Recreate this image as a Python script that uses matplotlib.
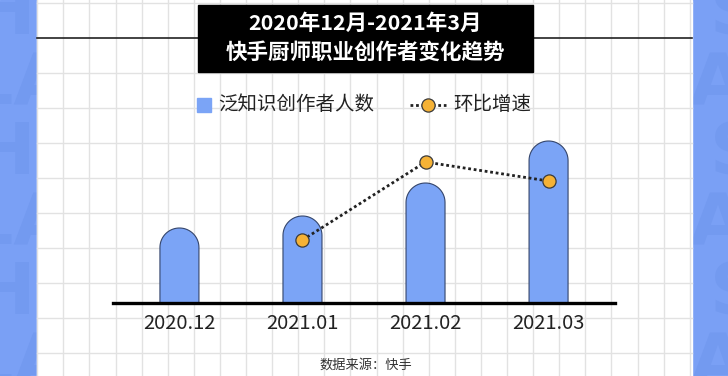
import numpy as np
import matplotlib
matplotlib.use("Agg")
import matplotlib.pyplot as plt
from matplotlib.patches import Polygon, Rectangle

plt.rcParams['font.family'] = ['Noto Sans CJK SC', 'DejaVu Sans']

# 数据
months = ['2020.12', '2021.01', '2021.02', '2021.03']
creators = [75, 87, 120, 162]          # 泛知识创作者人数（相对值）
growth_idx = [1, 2, 3]
growth = [63, 141, 122]                # 环比增速（相对值）

title_lines = ['2020年12月-2021年3月', '快手厨师职业创作者变化趋势']
legend_labels = ['泛知识创作者人数', '环比增速']
source = '数据来源：快手'

BLUE_BG = '#7AA0F5'
BAR_C = '#7BA4F6'
ORANGE = '#F5B236'
W, H = 728, 376

fig = plt.figure(figsize=(W / 100, H / 100), dpi=100)

# 背景层（像素坐标）
bg = fig.add_axes([0, 0, 1, 1])
bg.set_xlim(0, W)
bg.set_ylim(H, 0)
bg.axis('off')
bg.add_patch(Rectangle((0, 0), W, H, color=BLUE_BG, zorder=0))

# 两侧水印字
wm = dict(fontsize=52, fontweight='bold', color='#739AF0', va='baseline',
          family='DejaVu Sans', zorder=1)
for k in range(6):
    y = 34 + 70 * k
    if k % 2 == 0:
        bg.text(36, y, 'ASH', ha='right', **wm)
        bg.text(710, y, 'SL', ha='left', **wm)
    else:
        bg.text(70, y, 'FLA', ha='right', **wm)
        bg.text(690, y, 'ASH', ha='left', **wm)

# 白色面板 + 网格
bg.add_patch(Rectangle((37, 0), 655, H, color='white', zorder=2))
for x in [37.2] + list(63.3 + 26.1 * np.arange(25)):
    bg.plot([x, x], [0, H], color='#E2E2E2', lw=1, zorder=3)
for y in 3 + 35 * np.arange(11):
    if y == 38:
        continue
    bg.plot([37, 692], [y, y], color='#E2E2E2', lw=1, zorder=3)
bg.plot([37, 692], [38, 38], color='#222222', lw=1.2, zorder=4)

# 标题框
bg.add_patch(Rectangle((198, 5), 335, 67, color='black', zorder=5))
bg.text(365.5, 23, title_lines[0], color='white', fontsize=15.5, fontweight='bold',
        ha='center', va='center', zorder=6)
bg.text(365.5, 52, title_lines[1], color='white', fontsize=15.5, fontweight='bold',
        ha='center', va='center', zorder=6)

# 图例（手动）
bg.plot([203.5], [105], marker='s', ms=9.5, color=BAR_C, zorder=6)
bg.text(218, 105, legend_labels[0], fontsize=14, color='#222222', va='center', zorder=6)
bg.plot([410, 446], [105, 105], ls=(0, (1, 1)), color='#222222', lw=2, zorder=6)
bg.plot([428], [105], marker='o', ms=9.5, mfc=ORANGE, mec='#3a3a3a', mew=0.9, zorder=7)
bg.text(453, 105, legend_labels[1], fontsize=14, color='#222222', va='center', zorder=6)

# 数据来源
bg.text(366, 365, source, fontsize=9.5, color='#333333', ha='center', va='center', zorder=6)

# 主图
ax = fig.add_axes([113 / W, (H - 303) / H, 502 / W, 200 / H])
ax.patch.set_alpha(0)
ax.set_xlim(-0.54, 3.54)
ax.set_ylim(0, 200)
for s in ['left', 'right', 'top']:
    ax.spines[s].set_visible(False)
ax.spines['bottom'].set_linewidth(2.4)
ax.spines['bottom'].set_color('black')
ax.spines['bottom'].set_zorder(5)
ax.set_yticks([])
ax.set_xticks(range(len(months)))
ax.set_xticklabels(months, fontsize=14.5, color='#222222')
ax.tick_params(axis='x', length=0, pad=7)

# 圆头柱子
bw = 0.317
ry = 19.5
t = np.linspace(np.pi, 0, 40)
for i, h in enumerate(creators):
    xs = [i - bw / 2] + list(i + bw / 2 * np.cos(t)) + [i + bw / 2]
    ys = [0] + list(h - ry + ry * np.sin(t)) + [0]
    ax.add_patch(Polygon(np.column_stack([xs, ys]), closed=True, facecolor=BAR_C,
                         edgecolor='#34456b', lw=0.8, zorder=2))

# 环比增速折线
ax.plot(growth_idx, growth, ls=(0, (1, 1)), color='#222222', lw=2, zorder=3,
        marker='o', ms=9.5, mfc=ORANGE, mec='#3a3a3a', mew=0.9)

fig.savefig('out.png', dpi=100)
